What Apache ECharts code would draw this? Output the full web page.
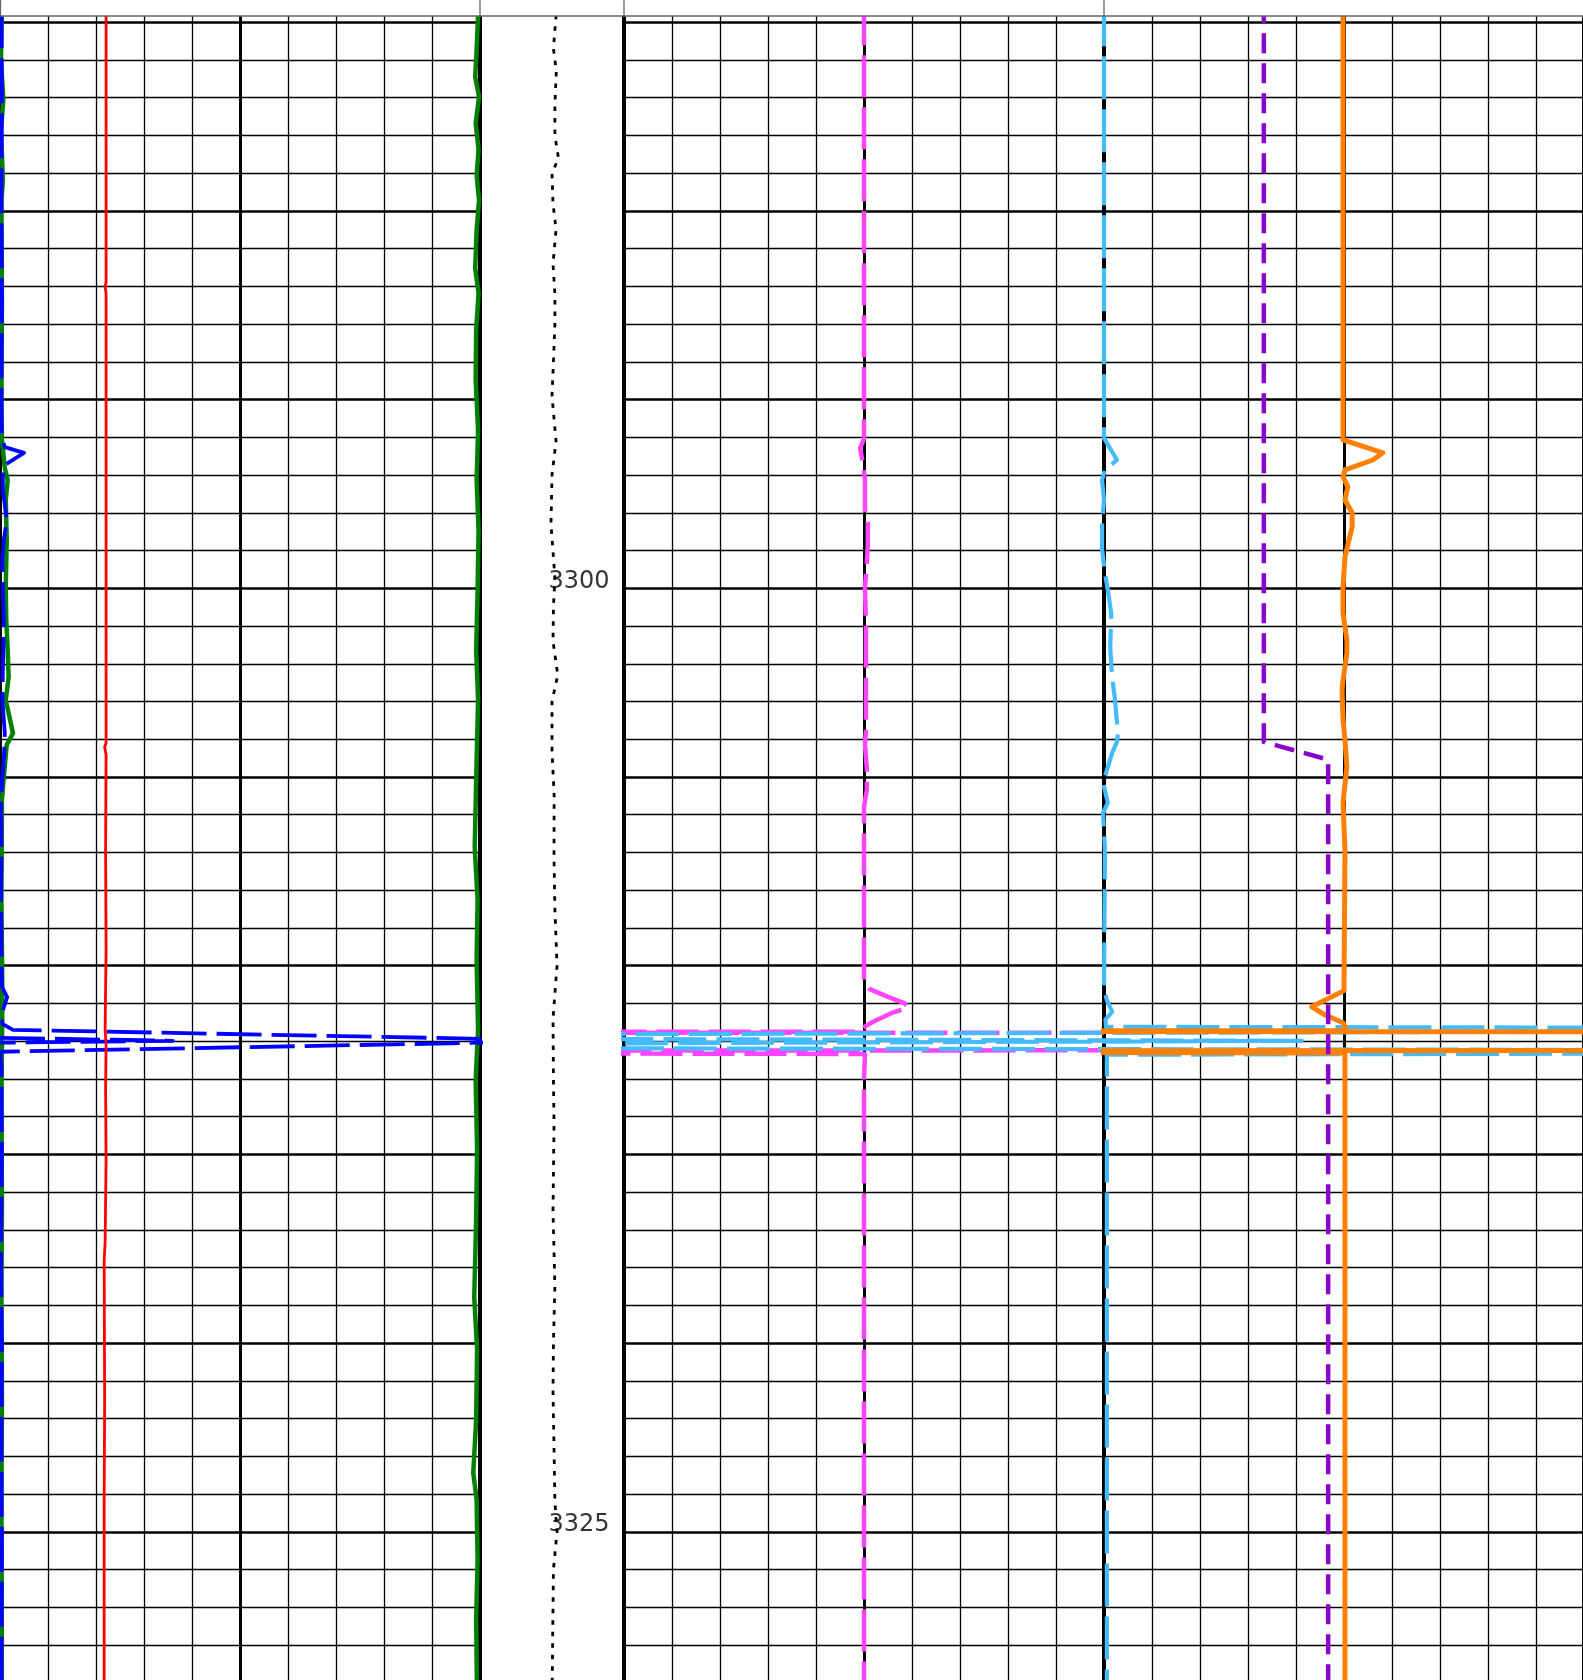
<!DOCTYPE html>
<html><head><meta charset="utf-8">
<script src="https://cdn.jsdelivr.net/npm/echarts/dist/echarts.min.js"></script>
<style>html,body{margin:0;padding:0;background:#fff}#c{width:1583px;height:1680px}</style>
</head><body><div id="c"></div>
<script>
// ---- data: [depth, value in track divisions] ----
const depthTicks = [3300, 3325];

const greenLeft = [[3284.5,0.04],[3286.0,0.02],[3287.06,0.07],[3287.85,0.02],[3289.18,0.06],[3289.71,0.03],[3292.36,0.04],[3295.01,0.03],[3296.07,0.04],[3296.81,0.10],[3297.13,0.16],[3297.66,0.12],[3298.72,0.14],[3299.97,0.12],[3300.84,0.13],[3301.64,0.16],[3302.35,0.18],[3302.96,0.12],[3303.84,0.27],[3304.15,0.14],[3304.99,0.08],[3305.60,0.04],[3308.25,0.03],[3310.90,0.05],[3313.55,0.03],[3316.20,0.04],[3318.85,0.03],[3321.50,0.04],[3324.15,0.03],[3329.5,0.04]];

const greenRight = [[3284.5,9.97],[3285.73,9.93],[3286.45,9.90],[3286.98,9.98],[3287.67,9.91],[3288.38,9.97],[3289.05,9.93],[3289.71,9.98],[3290.51,9.93],[3291.52,9.90],[3292.18,9.97],[3293.16,9.92],[3294.48,9.91],[3295.81,9.96],[3297.13,9.93],[3298.46,9.97],[3300.05,9.95],[3301.64,9.92],[3302.96,9.96],[3304.55,9.93],[3306.85,9.89],[3308.25,9.95],[3309.84,9.93],[3311.70,9.96],[3313.03,9.91],[3314.88,9.94],[3316.74,9.92],[3318.78,9.88],[3320.18,9.94],[3322.04,9.92],[3323.44,9.86],[3324.15,9.93],[3325.74,9.95],[3327.33,9.92],[3329.5,9.94]];

const blueCurve = [[3284.5,0.03],[3287.06,0.04],[3289.71,0.03],[3292.36,0.04],[3295.01,0.03],[3296.02,0.04],[3296.26,0.10],[3296.41,0.50],[3296.73,0.10],[3296.86,0.06],[3297.39,0.06],[3297.79,0.10],[3298.19,0.14],[3298.72,0.08],[3299.25,0.05],[3300.05,0.06],[3300.84,0.08],[3301.64,0.07],[3302.09,0.06],[3302.96,0.05],[3303.84,0.10],[3304.55,0.08],[3304.99,0.05],[3305.60,0.02],[3306.93,0.03],[3308.25,0.02],[3309.58,0.03],[3310.56,0.04],[3310.83,0.15],[3311.25,0.04],[3311.54,0.05],[3311.70,0.27],[3311.99,12.2],[3312.28,0.0],[3312.63,0.03],[3314.88,0.04],[3317.53,0.02],[3320.18,0.04],[3322.83,0.03],[3325.48,0.04],[3329.5,0.03]];

const blueSpike = [[3311.91,0.0],[3311.99,3.6],[3312.04,0.0]];

const redCurve = [[3284.5,2.21],[3291.9,2.21],[3292.0,2.19],[3292.2,2.21],[3297.66,2.21],[3304.1,2.21],[3304.2,2.18],[3304.42,2.21],[3306.93,2.20],[3309.58,2.21],[3311.70,2.19],[3312.1,2.21],[3313.29,2.20],[3315.14,2.21],[3317.35,2.19],[3317.80,2.17],[3321.50,2.18],[3324.15,2.17],[3329.5,2.17]];

const dottedCurve = [[3284.5,5.35],[3285.7,5.1],[3286.3,5.3],[3287.2,5.2],[3288.0,5.2],[3288.6,5.45],[3289.0,5.0],[3289.8,5.07],[3290.5,5.28],[3291.4,5.07],[3292.2,5.2],[3293.0,5.2],[3294.0,5.1],[3294.9,5.0],[3296.1,5.28],[3297.0,5.0],[3298.3,4.93],[3299.7,5.2],[3300.5,5.1],[3301.4,5.07],[3302.3,5.4],[3303.0,5.0],[3304.3,5.0],[3305.5,5.15],[3307.1,5.14],[3308.5,5.2],[3310.0,5.35],[3311.4,5.07],[3313.0,5.1],[3314.2,5.14],[3316.5,5.07],[3318.5,5.2],[3320.0,5.1],[3321.3,5.07],[3323.0,5.15],[3324.2,5.2],[3325.0,5.35],[3326.0,5.1],[3327.0,5.07],[3329.5,5.0]];

const magentaCurve = [[3284.5,5.0],[3296.04,5.0],[3296.28,4.92],[3296.65,4.97],[3297.10,5.02],[3297.92,5.02],[3298.29,5.08],[3298.85,5.08],[3299.30,5.06],[3299.97,5.02],[3300.95,5.04],[3303.81,5.04],[3304.13,5.02],[3304.79,5.06],[3305.34,5.06],[3305.79,5.0],[3310.40,5.0],[3310.62,5.12],[3310.80,5.45],[3311.0,5.85],[3311.12,5.92],[3311.24,5.6],[3311.49,5.18],[3311.75,4.83],[3311.77,-25],[3311.78,35],[3312.23,35],[3312.26,-25],[3312.34,5.02],[3313.03,5.0],[3329.5,5.0]];

const cyanCurve = [[3284.5,10.0],[3296.02,10.0],[3296.07,10.02],[3296.60,10.27],[3296.86,10.02],[3297.13,9.96],[3297.66,10.0],[3298.27,9.96],[3298.98,9.96],[3299.59,10.02],[3300.05,10.08],[3300.66,10.15],[3301.58,10.13],[3302.35,10.17],[3302.96,10.23],[3303.84,10.29],[3304.07,10.27],[3304.36,10.17],[3304.99,10.02],[3305.15,9.98],[3305.68,10.08],[3305.95,9.98],[3306.93,10.02],[3310.64,10.0],[3310.91,10.06],[3311.22,10.17],[3311.43,10.03],[3311.62,10.04],[3311.68,40],[3311.88,-20],[3311.99,14.12],[3312.15,-20],[3312.27,40],[3312.36,10.06],[3329.5,10.06]];

const orangeCurve = [[3284.5,4.98],[3296.07,4.98],[3296.12,5.02],[3296.41,5.81],[3296.60,5.6],[3296.86,5.02],[3297.05,4.98],[3297.31,5.08],[3297.66,5.02],[3298.0,5.17],[3298.37,5.17],[3299.17,5.02],[3299.97,4.98],[3300.66,4.98],[3301.37,5.06],[3301.72,5.06],[3302.43,4.98],[3302.70,4.96],[3303.49,4.98],[3304.02,5.02],[3304.73,5.06],[3305.69,4.98],[3306.93,5.02],[3310.66,5.0],[3311.09,4.33],[3311.30,4.6],[3311.51,4.98],[3311.72,5.06],[3311.73,-25],[3311.76,35],[3312.24,35],[3312.26,-25],[3312.31,5.02],[3329.5,5.02]];

const purpleCurve = [[3284.5,3.33],[3304.07,3.33],[3304.2,3.7],[3304.54,4.67],[3329.5,4.67]];

// ---- layout ----
const PX = 37.74;               // pixels per depth unit
const Y3300 = 588.3;            // pixel row of depth 3300
const DMIN = 3280, DMAX = 3330;
const gTop = Y3300 - (3300 - DMIN) * PX;
const gH = (DMAX - DMIN) * PX;

const xy = arr => arr.map(p => [p[1], p[0]]);

const grids = [
  {left: 0, width: 480, show: true},
  {left: 480, width: 144, show: false},
  {left: 624, width: 480, show: true},
  {left: 1104, width: 480, show: true},
  {left: 624, width: 960, show: false}
].map(g => ({left: g.left, width: g.width, top: gTop, height: gH, show: g.show,
  borderColor: '#000', borderWidth: 4, backgroundColor: 'transparent',
  containLabel: false, outerBoundsMode: 'none'}));

function xAx(i, lines, max) {
  return {gridIndex: i, type: 'value', min: 0, max: max || 10, interval: 5,
    axisLine: {show: false}, axisTick: {show: false}, axisLabel: {show: false},
    splitLine: {show: lines, lineStyle: {color: '#000', width: 3}},
    minorTick: {show: false, splitNumber: 5},
    minorSplitLine: {show: lines, lineStyle: {color: '#000', width: 1.3}}};
}
function yAx(i, lines) {
  return {gridIndex: i, type: 'value', inverse: true, min: DMIN, max: DMAX, interval: 5,
    axisLine: {show: false}, axisTick: {show: false}, axisLabel: {show: false},
    splitLine: {show: lines, lineStyle: {color: '#000', width: 2.6}},
    minorTick: {show: false, splitNumber: 5},
    minorSplitLine: {show: lines, lineStyle: {color: '#000', width: 1.3}}};
}

function line(name, g, data, color, width, type) {
  return {name, type: 'line', xAxisIndex: g, yAxisIndex: g, data: xy(data),
    symbol: 'none', smooth: false, clip: true, animation: false,
    lineStyle: {color, width, type: type || 'solid', cap: 'butt', join: 'round'}};
}

const option = {
  animation: false,
  backgroundColor: '#fff',
  textStyle: {fontFamily: 'DejaVu Sans'},
  grid: grids,
  xAxis: [xAx(0, true), xAx(1, false), xAx(2, true), xAx(3, true), xAx(4, false, 20)],
  yAxis: [yAx(0, true), yAx(1, false), yAx(2, true), yAx(3, true), yAx(4, false)],
  series: [
    line('greenLeft', 0, greenLeft, '#008000', 4.5),
    line('greenRight', 0, greenRight, '#008000', 4.5),
    line('blue', 0, blueCurve, '#0000ff', 3.8, [45, 10]),
    line('blueSpike', 0, blueSpike, '#0000ff', 3.8, [45, 10]),
    line('red', 0, redCurve, '#ff0000', 2.8),
    line('dotted', 1, dottedCurve, '#000000', 2.8, [4.5, 7]),
    {type: 'scatter', xAxisIndex: 1, yAxisIndex: 1, animation: false, silent: true,
      data: depthTicks.map(d => [6.875, d]), symbolSize: 1,
      itemStyle: {color: 'rgba(0,0,0,0)'},
      label: {show: true, position: 'inside', offset: [0, -7],
        formatter: p => String(p.value[1]), color: '#000',
        fontFamily: 'DejaVu Sans', fontSize: 24}},
    line('magenta', 2, magentaCurve, '#ff44ff', 4.5, [42, 10]),
    line('cyan', 4, cyanCurve, '#44bbff', 4.2, [43, 10]),
    line('orange', 3, orangeCurve, '#ff8000', 5),
    line('purple', 3, purpleCurve, '#8800cc', 4.5, [20, 10])
  ],
  graphic: [
    {type: 'rect', z: 100, shape: {x: 0, y: 0, width: 1583, height: 16}, style: {fill: '#fff'}},
    {type: 'line', z: 101, shape: {x1: 0, y1: 16, x2: 1583, y2: 16}, style: {stroke: '#666', lineWidth: 1.3}},
    {type: 'line', z: 101, shape: {x1: 0.5, y1: 0, x2: 0.5, y2: 16}, style: {stroke: '#666', lineWidth: 1.3}},
    {type: 'line', z: 101, shape: {x1: 480, y1: 0, x2: 480, y2: 16}, style: {stroke: '#666', lineWidth: 1.3}},
    {type: 'line', z: 101, shape: {x1: 624, y1: 0, x2: 624, y2: 16}, style: {stroke: '#666', lineWidth: 1.3}},
    {type: 'line', z: 101, shape: {x1: 1104, y1: 0, x2: 1104, y2: 16}, style: {stroke: '#666', lineWidth: 1.3}}
  ]
};

const chart = echarts.init(document.getElementById('c'), null, {renderer: 'canvas', width: 1583, height: 1680});
chart.setOption(option);
</script></body></html>
